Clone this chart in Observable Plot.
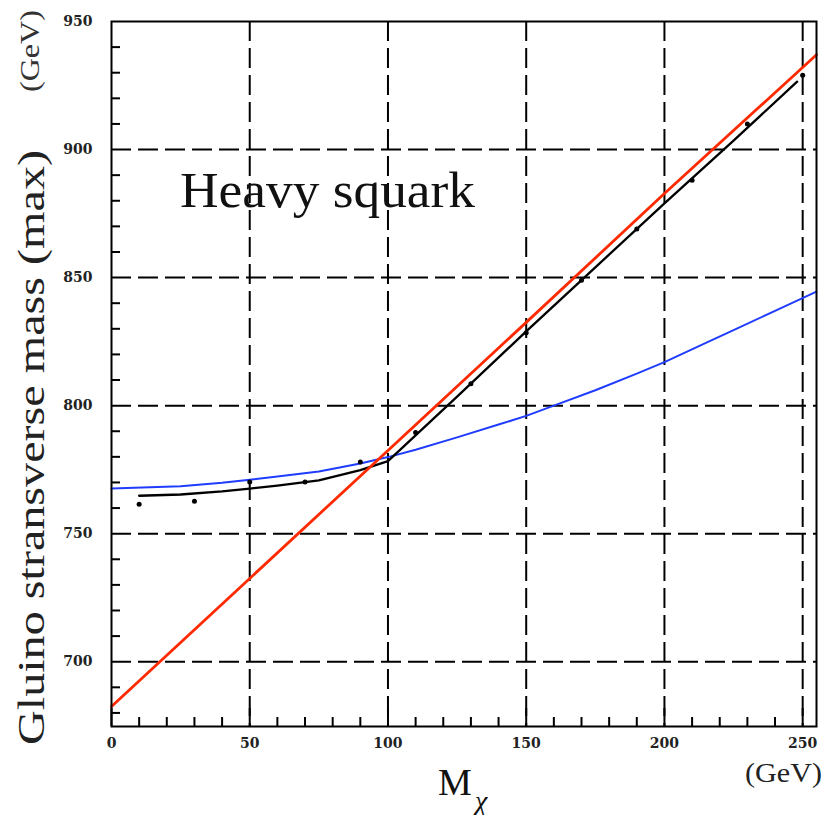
<!DOCTYPE html>
<html><head><meta charset="utf-8">
<script src="https://cdn.jsdelivr.net/npm/d3@7"></script>
<script src="https://cdn.jsdelivr.net/npm/@observablehq/plot@0.6"></script>
<style>
body{margin:0;background:#fff}
#chart{width:828px;height:815px}
</style>
</head><body><div id="chart"></div>
<script>
// Tick values
const xMajor = [0, 50, 100, 150, 200, 250];
const yMajor = [700, 750, 800, 850, 900, 950];
const xGrid = [50, 100, 150, 200, 250];
const yGrid = [700, 750, 800, 850, 900];
const xMinor = [10, 20, 30, 40, 60, 70, 80, 90, 110, 120, 130, 140, 160, 170, 180, 190, 210, 220, 230, 240];
const yMinor = [680, 690, 710, 720, 730, 740, 760, 770, 780, 790, 810, 820, 830, 840, 860, 870, 880, 890, 910, 920, 930, 940];

// Red line (linear)
const redX = [0, 50, 100, 150, 200, 255];
const redY = [682.5, 732.5, 782.5, 832.5, 882.8, 937];

// Blue curve
const blueX = [0, 25, 40, 50, 60, 75, 90, 100, 110, 125, 140, 150, 160, 175, 190, 200, 215, 225, 240, 255];
const blueY = [767.6, 768.5, 769.9, 771.1, 772.3, 774.3, 777.4, 779.9, 782.8, 787.6, 792.6, 796, 800, 806, 812.5, 817, 824.5, 829.5, 837, 844.5];

// Black fitted line
const blackX = [10, 25, 40, 50, 60, 75, 90, 100, 125, 150, 175, 200, 225, 248];
const blackY = [764.8, 765.3, 766.5, 767.6, 768.8, 770.8, 774.8, 778.3, 803.5, 829, 854, 879, 903.5, 926.5];

// Black data points
const dotX = [10, 30, 50, 70, 90, 110, 130, 150, 170, 190, 210, 230, 250];
const dotY = [761.5, 762.7, 770.2, 770.2, 778, 789.5, 808.5, 828.5, 849, 869, 888, 910, 929];

const red = redX.map((x, i) => ({x, y: redY[i]}));
const blue = blueX.map((x, i) => ({x, y: blueY[i]}));
const black = blackX.map((x, i) => ({x, y: blackY[i]}));
const dots = dotX.map((x, i) => ({x, y: dotY[i]}));

const tickFont = {fontSize: 14, fontWeight: "bold", fill: "#222"};

const svg = Plot.plot({
  width: 828,
  height: 815,
  marginLeft: 111,
  marginRight: 12,
  marginTop: 21,
  marginBottom: 89,
  x: {domain: [0, 255]},
  y: {domain: [674.7, 950]},
  style: {fontFamily: "DejaVu Serif", background: "white", color: "black"},
  marks: [
    Plot.ruleX(xGrid, {stroke: "black", strokeWidth: 2, strokeDasharray: "20,7"}),
    Plot.ruleY(yGrid, {stroke: "black", strokeWidth: 2, strokeDasharray: "20,7"}),
    Plot.axisX({ticks: xMinor, tickSize: 9, dy: -9, tickFormat: () => "", label: null, strokeWidth: 2}),
    Plot.axisY({ticks: yMinor, tickSize: 9, dx: 9, tickFormat: () => "", label: null, strokeWidth: 2}),
    Plot.axisX({ticks: xMajor, tickSize: 18, dy: -18, tickFormat: () => "", label: null, strokeWidth: 2}),
    Plot.axisX({ticks: xMajor, tickSize: 0, tickPadding: 12, label: null, ...tickFont}),
    Plot.axisY({ticks: yMajor, tickSize: 0, tickPadding: 19, label: null, ...tickFont}),
    Plot.line(blue, {x: "x", y: "y", stroke: "#1f3cff", strokeWidth: 2}),
    Plot.line(black, {x: "x", y: "y", stroke: "black", strokeWidth: 2.3}),
    Plot.line(red, {x: "x", y: "y", stroke: "#ff2a00", strokeWidth: 2.8}),
    Plot.dot(dots, {x: "x", y: "y", r: 2.5, fill: "black", stroke: "none"}),
    Plot.frame({stroke: "black", strokeWidth: 2})
  ]
});

const s = d3.select(svg);
const serif = "Liberation Serif";
function addText(x, y, txt, size, opts = {}) {
  const t = s.append("text")
    .attr("x", x).attr("y", y)
    .attr("font-family", serif)
    .attr("font-size", size)
    .attr("text-anchor", "start")
    .attr("fill", opts.fill || "black")
    .style("text-anchor", "start")
    .text(txt);
  if (opts.len) t.attr("textLength", opts.len).attr("lengthAdjust", "spacingAndGlyphs");
  if (opts.rotate) t.attr("transform", `rotate(-90 ${x} ${y})`);
  if (opts.italic) t.attr("font-style", "italic");
  return t;
}
addText(180, 207, "Heavy squark", 51, {len: 295, fill: "#111"});
addText(44, 745, "Gluino stransverse mass (max)", 37, {len: 595, rotate: true, fill: "#222"});
addText(39, 92, "(GeV)", 27, {len: 82, rotate: true, fill: "#333"});
addText(438, 795, "M", 38, {fill: "#111"});
addText(475, 810, "χ", 28, {italic: true, fill: "#111"});
addText(745, 782, "(GeV)", 28, {len: 77, fill: "#222"});

document.getElementById("chart").appendChild(svg);
</script>
</body></html>
